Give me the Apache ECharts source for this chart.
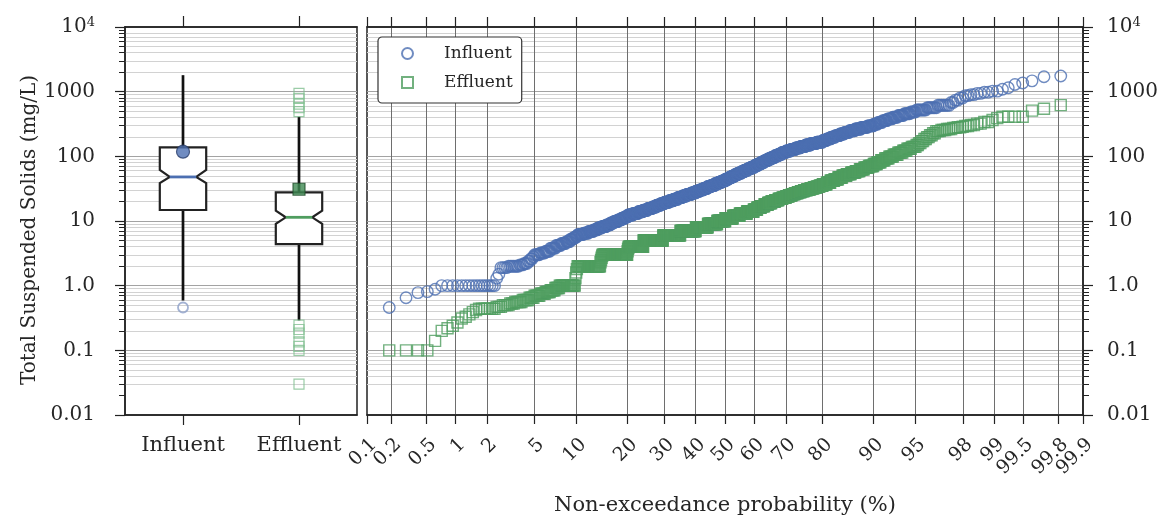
<!DOCTYPE html>
<html>
<head>
<meta charset="utf-8">
<script src="https://cdn.jsdelivr.net/npm/echarts@6/dist/echarts.min.js"></script>
<style>
  html, body { margin: 0; padding: 0; background: #fff; }
  #chart { width: 1166px; height: 519px; }
</style>
</head>
<body>
<div id="chart"></div>
<script>
// ---- Box-plot panel -------------------------------------------------------
const boxCategories = ['Influent', 'Effluent'];
// [lower whisker, Q1, median, Q3, upper whisker]  (mg/L)
const boxStats = [
  [0.59, 14.8, 48, 138, 1800],
  [0.29, 4.4, 11.4, 27.8, 410]
];
// notch limits around the median [low, high]
const boxNotches = [[38.7, 61.5], [9.0, 14.4]];
const boxMeans = [118, 31];
const influentOutliers = [0.46];
const effluentOutliers = [0.03, 0.10, 0.115, 0.135, 0.185, 0.21, 0.245, 490, 565, 640, 790, 940];

// ---- Probability panel: sorted samples as [value, count] runs -------------
const influentRuns = [
  [0.46, 1], [0.65, 1], [0.78, 1], [0.81, 1], [0.88, 1],
  [1.0, 16], [1.3, 1], [1.5, 1],
  [1.9, 4], [2.0, 7], [2.1, 3], [2.2, 3], [2.4, 2], [2.6, 2], [2.8, 1],
  [3.0, 5], [3.2, 5], [3.4, 5], [3.8, 6], [4.2, 6], [4.5, 6], [4.8, 5],
  [5.2, 4], [5.5, 4], [5.8, 3],
  [6.2, 8], [6.5, 8], [6.9, 8], [7.3, 7], [7.8, 8], [8.2, 8], [8.7, 8], [9.3, 7],
  [9.8, 8], [10.4, 8], [11.0, 7], [11.6, 7],
  [12.4, 12], [13.1, 12], [13.9, 12], [14.7, 12], [15.6, 12], [16.5, 11], [17.5, 11], [18.5, 11],
  [19.5, 13], [20.6, 13], [21.8, 13], [23.1, 13], [24.4, 13], [25.8, 14], [27.2, 14],
  [28.8, 12], [30.3, 12], [32.0, 12], [33.8, 12], [35.6, 12], [37.6, 12], [39.7, 11], [41.8, 11],
  [44.2, 10], [46.6, 10], [49.2, 10], [52, 10], [54.9, 11], [57.9, 10], [61.1, 11], [64.5, 10], [68.1, 11],
  [72, 10], [76.4, 10], [80.9, 10], [85.8, 10], [90.9, 11], [96.4, 10], [102, 11], [108, 10], [115, 11],
  [121, 13], [128, 13], [135, 13], [142, 13], [150, 13], [158, 14], [166, 14],
  [176, 9], [186, 9], [198, 9], [209, 9], [222, 9], [235, 9], [249, 10], [264, 10], [280, 10], [296, 9],
  [315, 6], [335, 6], [356, 6], [379, 6], [403, 6], [428, 6], [456, 6], [485, 5],
  [520, 8], [565, 7], [615, 7],
  [680, 2], [740, 2], [800, 2],
  [870, 2], [900, 2], [940, 2], [980, 2], [1020, 2],
  [1090, 1], [1150, 1], [1290, 1], [1360, 1], [1470, 1], [1700, 1], [1750, 1]
];
const effluentRuns = [
  [0.10, 4], [0.14, 1], [0.20, 1], [0.22, 1], [0.24, 1], [0.27, 1], [0.31, 1], [0.33, 1],
  [0.36, 1], [0.39, 1], [0.42, 1], [0.44, 7], [0.47, 3], [0.50, 4], [0.53, 3],
  [0.56, 5], [0.60, 5], [0.65, 4], [0.70, 5], [0.75, 5], [0.80, 5], [0.85, 5], [0.92, 5],
  [1.0, 20], [1.3, 1], [1.6, 1], [1.8, 1], [2.0, 37], [2.3, 1], [2.5, 1], [2.7, 1], [2.9, 1],
  [3.0, 51], [3.4, 1], [3.7, 1], [3.9, 1], [4.0, 35], [5.0, 52], [6.0, 50], [7.0, 47],
  [8.0, 38], [9.0, 30], [10, 26], [11, 24], [12, 22], [13, 23], [14, 21],
  [15, 11], [16, 11], [17, 11], [18, 11], [19, 10], [20, 11], [21, 10], [22, 11], [23, 10],
  [24, 8], [25, 8], [26, 8], [27, 8], [28, 8], [29, 8], [30, 8], [31, 8], [32, 8], [33, 7], [34, 7], [35, 7],
  [37, 9], [39, 8], [42, 8], [44, 8], [47, 8], [50, 8], [53, 8], [56, 8], [59, 7], [63, 7], [67, 7], [71, 7],
  [76, 5], [81, 5], [87, 5], [93, 5], [99, 5], [106, 5], [114, 5], [122, 4], [131, 4], [140, 4],
  [150, 2], [160, 2], [172, 2], [185, 2], [198, 2], [212, 2], [228, 2],
  [245, 3], [255, 3], [265, 3], [275, 2], [282, 2], [287, 1],
  [295, 2], [305, 2], [320, 2], [340, 2], [365, 1], [390, 1],
  [410, 4], [510, 1], [545, 1], [620, 1]
];

// ---- Tick labels ----------------------------------------------------------
const probTicks = [0.1, 0.2, 0.5, 1, 2, 5, 10, 20, 30, 40, 50, 60, 70, 80, 90, 95, 98, 99, 99.5, 99.8, 99.9];
const probTickLabels = ['0.1', '0.2', '0.5', '1', '2', '5', '10', '20', '30', '40', '50',
  '60', '70', '80', '90', '95', '98', '99', '99.5', '99.8', '99.9'];
const decadeLabels = ['0.01', '0.1', '1.0', '10', '100', '1000', '{b|10}{s|4}'];

// ---- helpers --------------------------------------------------------------
const FONT = 'DejaVu Serif';
const TEXT = '#262626';
const INF_COLOR = '#4c6fb1';
const EFF_COLOR = '#4f9d5f';
const PP_A = -0.75; // plotting-position constant

// inverse of the standard normal CDF (Acklam)
function probit(p) {
  const a = [-3.969683028665376e+01, 2.209460984245205e+02, -2.759285104469687e+02,
    1.383577518672690e+02, -3.066479806614716e+01, 2.506628277459239e+00];
  const b = [-5.447609879822406e+01, 1.615858368580409e+02, -1.556989798598866e+02,
    6.680131188771972e+01, -1.328068155288572e+01];
  const c = [-7.784894002430293e-03, -3.223964580411365e-01, -2.400758277161838e+00,
    -2.549732539343734e+00, 4.374664141464968e+00, 2.938163982698783e+00];
  const d = [7.784695709041462e-03, 3.224671290700398e-01, 2.445134137142996e+00,
    3.754408661907416e+00];
  const pl = 0.02425;
  if (p < pl) {
    const q = Math.sqrt(-2 * Math.log(p));
    return (((((c[0] * q + c[1]) * q + c[2]) * q + c[3]) * q + c[4]) * q + c[5]) /
      ((((d[0] * q + d[1]) * q + d[2]) * q + d[3]) * q + 1);
  }
  if (p > 1 - pl) {
    const q = Math.sqrt(-2 * Math.log(1 - p));
    return -(((((c[0] * q + c[1]) * q + c[2]) * q + c[3]) * q + c[4]) * q + c[5]) /
      ((((d[0] * q + d[1]) * q + d[2]) * q + d[3]) * q + 1);
  }
  const q = p - 0.5, r = q * q;
  return (((((a[0] * r + a[1]) * r + a[2]) * r + a[3]) * r + a[4]) * r + a[5]) * q /
    (((((b[0] * r + b[1]) * r + b[2]) * r + b[3]) * r + b[4]) * r + 1);
}

function probabilityPoints(runs) {
  const values = [];
  runs.forEach(([v, n]) => { for (let k = 0; k < n; k++) values.push(v); });
  const n = values.length;
  return values.map((v, i) => [probit((i + 1 - PP_A) / (n + 1 - 2 * PP_A)), v]);
}

const zTicks = probTicks.map(p => probit(p / 100));
const zMin = zTicks[0], zMax = zTicks[zTicks.length - 1];
const zInner = zTicks.slice(1, -1);
function probLabel(z) {
  let best = 0;
  zTicks.forEach((t, i) => { if (Math.abs(t - z) < Math.abs(zTicks[best] - z)) best = i; });
  return probTickLabels[best];
}

const minorValues = [];
for (let e = -2; e < 4; e++) {
  for (let k = 2; k <= 9; k++) minorValues.push(+(k * Math.pow(10, e)).toPrecision(3));
}
function decadeLabel(v) {
  return decadeLabels[Math.round(Math.log10(v)) + 2] || '';
}

const labelRich = {
  b: { fontFamily: FONT, fontSize: 20, color: TEXT, lineHeight: 22 },
  s: { fontFamily: FONT, fontSize: 13, color: TEXT, lineHeight: 13, verticalAlign: 'top' }
};

const boxColors = [INF_COLOR, EFF_COLOR];
function renderBox(params, api) {
  const i = api.value(0);
  const lo = api.coord([i, api.value(1)]);
  const q1 = api.coord([i, api.value(2)]);
  const md = api.coord([i, api.value(3)]);
  const q3 = api.coord([i, api.value(4)]);
  const hi = api.coord([i, api.value(5)]);
  const nl = api.coord([i, api.value(6)]);
  const nh = api.coord([i, api.value(7)]);
  const hw = api.size([1, 0])[0] * 0.2;
  const ind = hw * 0.43;
  const cx = md[0];
  return {
    type: 'group',
    children: [
      { type: 'line', shape: { x1: cx, y1: q3[1], x2: cx, y2: hi[1] }, style: { stroke: '#111', lineWidth: 2.7 } },
      { type: 'line', shape: { x1: cx, y1: q1[1], x2: cx, y2: lo[1] }, style: { stroke: '#111', lineWidth: 2.7 } },
      {
        type: 'polygon',
        shape: { points: [
          [cx - hw, q3[1]], [cx - hw, nh[1]], [cx - hw + ind, md[1]], [cx - hw, nl[1]], [cx - hw, q1[1]],
          [cx + hw, q1[1]], [cx + hw, nl[1]], [cx + hw - ind, md[1]], [cx + hw, nh[1]], [cx + hw, q3[1]]
        ] },
        style: { fill: '#fff', stroke: '#222', lineWidth: 2.2 }
      },
      { type: 'line', shape: { x1: cx - hw + ind, y1: md[1], x2: cx + hw - ind, y2: md[1] },
        style: { stroke: boxColors[i], lineWidth: 2.8 } }
    ]
  };
}

const logAxisBase = { type: 'log', logBase: 10, min: 0.01, max: 10000, splitNumber: 6 };
function majorY(gridIndex, position, labelMargin) {
  return Object.assign({}, logAxisBase, {
    gridIndex, position,
    axisLine: { show: true, onZero: false, lineStyle: { color: '#222', width: 1.5 } },
    axisTick: { show: true, length: 10, lineStyle: { color: '#222', width: 1.2 } },
    axisLabel: {
      show: true, margin: labelMargin,
      fontFamily: FONT, fontSize: 20, color: TEXT,
      formatter: decadeLabel, rich: labelRich
    },
    splitLine: { show: true, showMinLine: false, showMaxLine: false, lineStyle: { color: '#a3a3a3', width: 1 } }
  });
}
function minorY(gridIndex, position) {
  return Object.assign({}, logAxisBase, {
    gridIndex, position,
    axisLine: { show: false, onZero: false },
    axisTick: { show: true, length: 6, customValues: minorValues, lineStyle: { color: '#222', width: 1 } },
    axisLabel: { show: false },
    splitLine: { show: true, showMinLine: false, showMaxLine: false, lineStyle: { color: '#d2d2d2', width: 1 } }
  });
}

const probLabelStyle = {
  show: true, interval: 0, hideOverlap: false, rotate: 45, align: 'right', verticalAlign: 'top',
  margin: 20, showMinLabel: true, showMaxLabel: true, fontFamily: FONT, fontSize: 19,
  color: TEXT, formatter: probLabel
};

const option = {
  animation: false,
  backgroundColor: '#fff',
  textStyle: { fontFamily: FONT, color: TEXT },
  grid: [
    { left: 125, top: 27, width: 232, height: 388, show: true, borderColor: '#222', borderWidth: 1.5, outerBoundsMode: 'none' },
    { left: 367, top: 27, width: 716, height: 388, show: true, borderColor: '#222', borderWidth: 1.5, outerBoundsMode: 'none' }
  ],
  legend: {
    data: ['Influent', 'Effluent'],
    orient: 'vertical',
    left: 378, top: 37,
    padding: [8, 9, 12, 23],
    itemGap: 12,
    itemWidth: 11, itemHeight: 11,
    borderColor: '#333', borderWidth: 1.2, borderRadius: 4,
    backgroundColor: '#fff',
    textStyle: { fontFamily: FONT, fontSize: 17, color: TEXT, padding: [0, 0, 0, 26] }
  },
  graphic: [{
    type: 'text', x: 30, y: 230, rotation: Math.PI / 2,
    style: { text: 'Total Suspended Solids (mg/L)', fontFamily: FONT, fontSize: 20, fill: TEXT,
      align: 'center', verticalAlign: 'middle' }
  }],
  xAxis: [
    {
      type: 'category', gridIndex: 0, position: 'bottom', data: boxCategories,
      axisLine: { show: true, onZero: false, lineStyle: { color: '#222', width: 1.5 } },
      axisTick: { show: true, alignWithLabel: true, length: 10, lineStyle: { color: '#222', width: 1.2 } },
      axisLabel: { fontFamily: FONT, fontSize: 21, color: TEXT, margin: 20 },
      splitLine: { show: false }
    },
    {
      type: 'category', gridIndex: 0, position: 'top', data: boxCategories,
      axisLine: { show: true, onZero: false, lineStyle: { color: '#222', width: 1.5 } },
      axisTick: { show: true, alignWithLabel: true, length: 11, lineStyle: { color: '#222', width: 1.2 } },
      axisLabel: { show: false },
      splitLine: { show: false }
    },
    {
      type: 'value', gridIndex: 1, position: 'bottom', min: zMin, max: zMax,
      name: 'Non-exceedance probability (%)', nameLocation: 'middle', nameGap: 80,
      nameTextStyle: { fontFamily: FONT, fontSize: 21, color: TEXT },
      axisLine: { show: true, onZero: false, lineStyle: { color: '#222', width: 1.5 } },
      axisTick: { show: true, length: 9, customValues: zTicks, lineStyle: { color: '#222', width: 1.2 } },
      axisLabel: Object.assign({ customValues: zInner }, probLabelStyle),
      splitLine: { show: true, showMinLine: false, showMaxLine: false, lineStyle: { color: '#6e6e6e', width: 1 } }
    },
    {
      type: 'value', gridIndex: 1, position: 'top', min: zMin, max: zMax,
      axisLine: { show: true, onZero: false, lineStyle: { color: '#222', width: 1.5 } },
      axisTick: { show: true, length: 10, customValues: zTicks, lineStyle: { color: '#222', width: 1.2 } },
      axisLabel: { show: false },
      splitLine: { show: false }
    },
    {
      // end labels (0.1 and 99.9) on their own axis so they are not pruned next to 0.2 / 99.8
      type: 'value', gridIndex: 1, position: 'bottom', min: zMin, max: zMax,
      axisLine: { show: false, onZero: false },
      axisTick: { show: false },
      axisLabel: Object.assign({ customValues: [zMin, zMax] }, probLabelStyle),
      splitLine: { show: false }
    }
  ],
  yAxis: [
    majorY(0, 'left', 30),
    minorY(0, 'left'),
    majorY(1, 'right', 24),
    minorY(1, 'right')
  ],
  series: [
    {
      name: 'boxes', type: 'custom', xAxisIndex: 0, yAxisIndex: 0, z: 3,
      renderItem: renderBox,
      encode: { x: 0, y: [1, 2, 3, 4, 5, 6, 7] },
      data: boxStats.map((s, i) => [i].concat(s, boxNotches[i]))
    },
    {
      name: 'Influent outliers', type: 'scatter', xAxisIndex: 0, yAxisIndex: 0, z: 4,
      symbol: 'circle', symbolSize: 10,
      itemStyle: { color: 'rgba(255,255,255,0)', borderColor: '#8c9fc8', borderWidth: 1.8 },
      data: influentOutliers.map(v => [0, v])
    },
    {
      name: 'Effluent outliers', type: 'scatter', xAxisIndex: 0, yAxisIndex: 0, z: 4,
      symbol: 'rect', symbolSize: 10,
      itemStyle: { color: 'rgba(255,255,255,0)', borderColor: '#82bf91', borderWidth: 1.2 },
      data: effluentOutliers.map(v => [1, v])
    },
    {
      name: 'Influent mean', type: 'scatter', xAxisIndex: 0, yAxisIndex: 0, z: 5,
      symbol: 'circle', symbolSize: 13,
      itemStyle: { color: INF_COLOR, borderColor: '#2b3f6b', borderWidth: 1.2 },
      data: [[0, boxMeans[0]]]
    },
    {
      name: 'Effluent mean', type: 'scatter', xAxisIndex: 0, yAxisIndex: 0, z: 5,
      symbol: 'rect', symbolSize: 12,
      itemStyle: { color: '#3f8a53', borderColor: '#1f4d2b', borderWidth: 1.2 },
      data: [[1, boxMeans[1]]]
    },
    {
      name: 'Influent', type: 'scatter', xAxisIndex: 2, yAxisIndex: 2, z: 4,
      symbol: 'circle', symbolSize: 11.5, progressive: 0, large: false,
      itemStyle: { color: 'rgba(255,255,255,0)', borderColor: INF_COLOR, borderWidth: 1.4 },
      data: probabilityPoints(influentRuns)
    },
    {
      name: 'Effluent', type: 'scatter', xAxisIndex: 2, yAxisIndex: 2, z: 4,
      symbol: 'rect', symbolSize: 11, progressive: 0, large: false,
      itemStyle: { color: 'rgba(255,255,255,0)', borderColor: EFF_COLOR, borderWidth: 1.4 },
      data: probabilityPoints(effluentRuns)
    }
  ]
};

const chart = echarts.init(document.getElementById('chart'), null, { renderer: 'canvas' });
chart.setOption(option);
</script>
</body>
</html>
